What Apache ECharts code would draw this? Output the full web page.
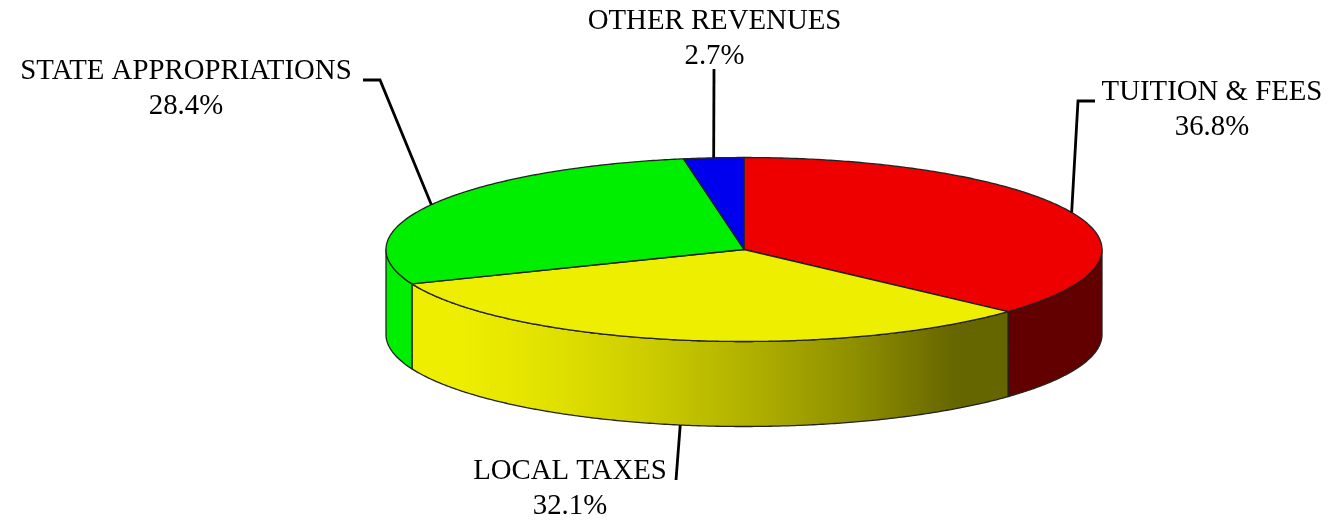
<!DOCTYPE html>
<html><head><meta charset="utf-8">
<script src="https://cdn.jsdelivr.net/npm/echarts@6/dist/echarts.min.js"></script>
<style>html,body{margin:0;padding:0;background:#fff}#c{width:1328px;height:520px}</style>
</head><body><div id="c"></div>
<script>
const categories = ['TUITION & FEES', 'LOCAL TAXES', 'STATE APPROPRIATIONS', 'OTHER REVENUES'];
const shares = [36.8, 32.1, 28.4, 2.7];

const topColors = ['#EE0000', '#EEEE00', '#00EE00', '#0000EE'];
const sideStops = [
  [[0, '#620000'], [1, '#620000']],
  [[0, '#EEEE00'], [0.08, '#EEEE00'], [0.245, '#E0E000'], [0.41, '#CACA00'], [0.58, '#AEAE00'], [0.74, '#8F8F00'], [0.91, '#666600'], [1, '#666600']],
  [[0, '#00EE00'], [1, '#00EE00']],
  [[0, '#0000EE'], [1, '#0000EE']]
];
const labelAt = [[1212, 109.5], [570, 489], [186, 88.5], [714.5, 38.5]];
const elbows = [[[1078, 101], [1095, 101]], [[676, 480]], [[380, 80], [363, 80]], [[714, 69]]];

const CX = 744, CY = 249.5, RX = 358, RY = 92, DEPTH = 85, EDGE = '#222222';
const total = shares.reduce((a, b) => a + b, 0);
const pt = (deg, dy) => {
  const t = deg * Math.PI / 180;
  return [CX + RX * Math.sin(t), CY - RY * Math.cos(t) + (dy || 0)];
};
const arc = (a, b, dy) => {
  const out = [], n = Math.max(2, Math.ceil(Math.abs(b - a) * 2));
  for (let i = 0; i <= n; i++) out.push(pt(a + (b - a) * i / n, dy));
  return out;
};

function renderItem(params, api) {
  const i = params.dataIndex;
  let before = 0;
  for (let k = 0; k < i; k++) before += shares[k];
  const a = before / total * 360, b = (before + api.value(1)) / total * 360;
  const mid = (a + b) / 2;
  const children = [];
  const s0 = Math.max(a, 90), s1 = Math.min(b, 270);
  if (s1 > s0) {
    const pts = arc(s0, s1, 0).concat(arc(s1, s0, DEPTH));
    children.push({
      type: 'polygon', z2: 1, shape: { points: pts },
      style: {
        fill: new echarts.graphic.LinearGradient(0, 0, 1, 0,
          sideStops[i].map(s => ({ offset: s[0], color: s[1] }))),
        stroke: EDGE, lineWidth: 1.3, lineJoin: 'round'
      }
    });
  }
  children.push({
    type: 'polygon', z2: 2, shape: { points: [[CX, CY]].concat(arc(a, b, 0)) },
    style: { fill: topColors[i], stroke: EDGE, lineWidth: 1.3, lineJoin: 'round' }
  });
  const anchor = pt(mid, mid > 90 && mid < 270 ? DEPTH : 0);
  children.push({
    type: 'polyline', z2: 3, shape: { points: [anchor].concat(elbows[i]) },
    style: { fill: null, stroke: '#000', lineWidth: 2.8, lineJoin: 'miter' }
  });
  children.push({
    type: 'text', z2: 4, x: labelAt[i][0], y: labelAt[i][1],
    style: {
      text: categories[i] + '\n' + api.value(1).toFixed(1) + '%',
      fontFamily: '"Liberation Serif"', fontSize: 28.8, lineHeight: 35,
      fill: '#000', align: 'center', verticalAlign: 'middle'
    }
  });
  return { type: 'group', children };
}

const chart = echarts.init(document.getElementById('c'), null, { renderer: 'canvas' });
chart.setOption({
  backgroundColor: '#fff',
  animation: false,
  series: [{
    type: 'custom',
    coordinateSystem: 'none',
    renderItem,
    data: categories.map((c, i) => [i, shares[i]])
  }]
});
</script></body></html>
